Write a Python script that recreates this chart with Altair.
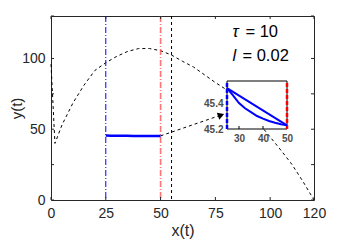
import altair as alt
import pandas as pd

# ---- data ----
curve_x = [0, 1.8, 5, 10, 15, 20, 25, 30, 35, 40, 45, 50, 55, 60, 65, 70, 75, 80,
           85, 90, 95, 100, 105, 110, 115, 120]
curve_y = [96, 40, 53, 68.5, 81, 91.5, 97, 101.5, 105, 107, 107, 105.5, 102.4, 98,
           94, 88.5, 83, 78, 71, 63, 54, 44.5, 35, 25, 13, 0]
vline_x = [25, 50, 55]
sol_x = [25, 27.5, 30, 32.5, 35, 37.5, 40, 42.5, 45, 47.5, 50]
sol_curve = [45.515, 45.46, 45.40, 45.36, 45.33, 45.30, 45.28, 45.262, 45.248, 45.237, 45.228]
sol_line_x = [25, 50]
sol_line_y = [45.515, 45.228]
arrow_x = [50, 77.6]
arrow_y = [45.3, 60.0]
x_ticks = [0, 25, 50, 75, 100, 120]
y_ticks = [0, 25, 50, 75, 100, 130]
inset_x_ticks = [30, 40, 50]
inset_y_ticks = [45.2, 45.4]
inset_x_domain = [25, 50]
inset_y_domain = [45.2, 45.57]
ann_sym = ["τ", "l"]
ann_rest = ["= 10", "= 0.02"]
ann_x = [82.8, 82.8]
ann_y = [115.2, 98.2]
ann_dx = [13, 10]

W, H = 263, 184
IX = [176, 236]
IY = [113, 65]
FONT = "Liberation Sans"
TXT = "#262626"

xs = alt.Scale(domain=[0, 120], nice=False, zero=False)
ys = alt.Scale(domain=[0, 130], nice=False, zero=False)

curve = alt.Chart(pd.DataFrame({"x": curve_x, "y": curve_y})).mark_line(
    color="black", strokeDash=[3, 3], strokeWidth=1
).encode(
    x=alt.X("x:Q", scale=xs, axis=alt.Axis(
        title="x(t)", values=x_ticks, ticks=False, domain=False, grid=False,
        labelFontSize=14, labelPadding=6, labelFlush=False, labelOverlap=False,
        titleFontSize=16, titleFontWeight="normal", titlePadding=2,
        labelColor=TXT, titleColor=TXT, labelFont=FONT, titleFont=FONT)),
    y=alt.Y("y:Q", scale=ys, axis=alt.Axis(
        title="y(t)", values=y_ticks, ticks=False, domain=False, grid=False,
        labelFontSize=14, labelPadding=6, labelFlush=False, labelOverlap=False,
        titleFontSize=15, titleFontWeight="normal", titleX=-30, titleY=H / 2,
        titleAngle=270, titleAlign="center", titleBaseline="alphabetic",
        labelColor=TXT, titleColor=TXT, labelFont=FONT, titleFont=FONT)),
)

vl_blue = alt.Chart(pd.DataFrame({"x": [vline_x[0]]})).mark_rule(
    color="#0000ff", strokeDash=[6, 2, 1, 2], strokeWidth=1).encode(x="x:Q")
vl_red = alt.Chart(pd.DataFrame({"x": [vline_x[1]]})).mark_rule(
    color="#ff5050", strokeDash=[6, 2, 1, 2], strokeWidth=1.6, opacity=0.8).encode(x="x:Q")
vl_black = alt.Chart(pd.DataFrame({"x": [vline_x[2]]})).mark_rule(
    color="black", strokeDash=[3, 3], strokeWidth=1).encode(x="x:Q")

sol_df = pd.DataFrame({"x": sol_x, "y": sol_curve})
sol_main = alt.Chart(sol_df).mark_line(color="#0000ff", strokeWidth=2.5).encode(x="x:Q", y="y:Q")

arrow = alt.Chart(pd.DataFrame({"x": arrow_x, "y": arrow_y})).mark_line(
    color="black", strokeDash=[3, 3], strokeWidth=1).encode(x="x:Q", y="y:Q")
head = alt.Chart(pd.DataFrame({"x": [arrow_x[1]], "y": [arrow_y[1]]})).mark_point(
    shape="triangle-right", filled=True, size=55, angle=340, color="black", opacity=1
).encode(x="x:Q", y="y:Q")

ann_df = pd.DataFrame({"x": ann_x, "y": ann_y, "s": ann_sym, "r": ann_rest, "dx": ann_dx})
sym = alt.Chart(ann_df).mark_text(
    align="left", baseline="alphabetic", fontSize=16.5, fontStyle="italic", font=FONT, color="black"
).encode(x="x:Q", y="y:Q", text="s:N")
rest0 = alt.Chart(ann_df.iloc[[0]]).mark_text(
    align="left", baseline="alphabetic", fontSize=16.5, font=FONT, color="black", dx=ann_dx[0]
).encode(x="x:Q", y="y:Q", text="r:N")
rest1 = alt.Chart(ann_df.iloc[[1]]).mark_text(
    align="left", baseline="alphabetic", fontSize=16.5, font=FONT, color="black", dx=ann_dx[1]
).encode(x="x:Q", y="y:Q", text="r:N")

xt = pd.DataFrame({"x": x_ticks})
yt = pd.DataFrame({"y": y_ticks})
tk_b = alt.Chart(xt).mark_rule(color=TXT).encode(x="x:Q", y=alt.value(H), y2=alt.value(H - 3))
tk_t = alt.Chart(xt).mark_rule(color=TXT).encode(x="x:Q", y=alt.value(0), y2=alt.value(3))
tk_l = alt.Chart(yt).mark_rule(color=TXT).encode(y="y:Q", x=alt.value(0), x2=alt.value(3))
tk_r = alt.Chart(yt).mark_rule(color=TXT).encode(y="y:Q", x=alt.value(W), x2=alt.value(W - 3))

main = alt.LayerChart(layer=[curve, vl_blue, vl_red, vl_black, sol_main, arrow, head,
                             sym, rest0, rest1, tk_b, tk_t, tk_l, tk_r])

# ---- inset ----
ixs = alt.Scale(domain=inset_x_domain, range=IX, nice=False, zero=False)
iys = alt.Scale(domain=inset_y_domain, range=IY, nice=False, zero=False)

box = alt.Chart(pd.DataFrame({"x": [inset_x_domain[0]], "x2": [inset_x_domain[1]],
                              "y": [inset_y_domain[0]], "y2": [inset_y_domain[1]]})).mark_rect(
    fill="white", stroke="black", strokeWidth=1
).encode(
    x=alt.X("x:Q", scale=ixs, axis=alt.Axis(
        orient="bottom", offset=-(H - IY[0]), values=inset_x_ticks, title=None,
        ticks=False, domain=False, grid=False, labelFontSize=10, labelFontWeight="bold",
        labelColor="#4d4d4d", labelPadding=4, labelFlush=False, labelOverlap=False, labelFont=FONT)),
    x2="x2:Q",
    y=alt.Y("y:Q", scale=iys, axis=alt.Axis(
        orient="left", offset=-IX[0], values=inset_y_ticks, title=None, format=".1f",
        ticks=False, domain=False, grid=False, labelFontSize=10, labelFontWeight="bold",
        labelColor="#4d4d4d", labelPadding=4, labelFlush=False, labelOverlap=False, labelFont=FONT)),
    y2="y2:Q",
)
ivl_b = alt.Chart(pd.DataFrame({"x": [vline_x[0]]})).mark_rule(
    color="#0000ff", strokeDash=[4, 2], strokeWidth=2.5).encode(
    x="x:Q", y=alt.datum(inset_y_domain[0]), y2=alt.datum(inset_y_domain[1]))
ivl_r = alt.Chart(pd.DataFrame({"x": [vline_x[1]]})).mark_rule(
    color="#ff0000", strokeDash=[4, 2], strokeWidth=2.5).encode(
    x="x:Q", y=alt.datum(inset_y_domain[0]), y2=alt.datum(inset_y_domain[1]))
i_curve = alt.Chart(sol_df).mark_line(color="#0000ff", strokeWidth=2).encode(x="x:Q", y="y:Q")
i_line = alt.Chart(pd.DataFrame({"x": sol_line_x, "y": sol_line_y})).mark_line(
    color="#0000ff", strokeWidth=2).encode(x="x:Q", y="y:Q")
ixt = alt.Chart(pd.DataFrame({"x": inset_x_ticks[:2]})).mark_rule(color="black").encode(
    x="x:Q", y=alt.value(IY[0]), y2=alt.value(IY[0] - 3))

inset = alt.LayerChart(layer=[box, ivl_b, ivl_r, i_curve, i_line, ixt])

chart = alt.LayerChart(layer=[main, inset]).resolve_scale(
    x="independent", y="independent"
).properties(
    width=W, height=H,
    padding={"left": 43, "top": 8, "right": 16, "bottom": 40},
    autosize=alt.AutoSizeParams(type="none"),
).configure_view(stroke=TXT, strokeWidth=1)

chart.save("out.html", embed_options={"renderer": "svg", "actions": False})
